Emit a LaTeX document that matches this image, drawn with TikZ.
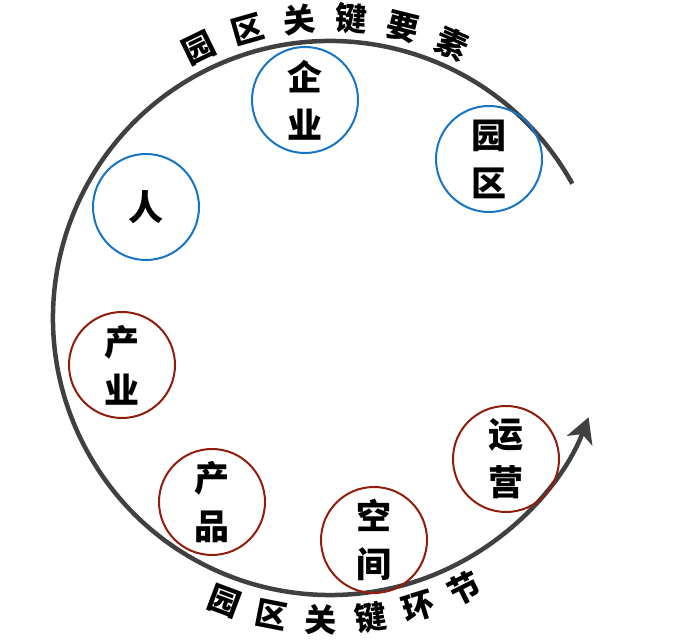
\documentclass[tikz,border=0pt]{standalone}
\usepackage{fontspec}
\newfontfamily\cjk{Noto Sans CJK SC Black}
\usetikzlibrary{arrows.meta}

\definecolor{ringgray}{RGB}{64,64,64}
\definecolor{keyblue}{RGB}{24,116,196}
\definecolor{keyred}{RGB}{145,30,12}

\tikzset{
  elem/.style={circle, draw=keyblue, line width=2pt, minimum size=106pt,
    align=center, font=\cjk\fontsize{35}{48}\selectfont},
  link/.style={elem, draw=keyred},
  arctext/.style={font=\cjk\fontsize{32}{32}\selectfont, inner sep=0pt}
}

\begin{document}
\begin{tikzpicture}[x=1pt, y=1pt] %one unit = one pixel of the sheet
\useasboundingbox (0,0) rectangle (700,639);
\coordinate (C) at (330,321);
%the big ring, open on the right, arrow at the lower end
\draw[ringgray, line width=4.5pt, -{Stealth[length=25pt, width=27pt, inset=7pt]}]
  (C) ++(29:277) arc (29:339:277);
%key elements (blue)
\node[elem] (qiye) at (305,539) {企\\业};
\node[elem] (yuanqu) at (489,480) {园\\区};
\node[elem] (ren) at (146,432) {人};
%key links (red)
\node[link] (chanye) at (122,274) {产\\业};
\node[link] (chanpin) at (212,137) {产\\品};
\node[link] (kongjian) at (374,99) {空\\间};
\node[link] (yunying) at (506,180) {运\\营};
%texts along the ring
\foreach \ch [count=\i] in {园,区,关,键,要,素}
  \path (C) ++({126-10*\i}:300) node[arctext, rotate={36-10*\i}] (top\i) {\ch};
\foreach \ch [count=\i] in {园,区,关,键,环,节}
  \path (C) ++({-119.9+9.4*\i}:302) node[arctext, rotate={-29.9+9.4*\i}] (bot\i) {\ch};
\end{tikzpicture}
\end{document}
